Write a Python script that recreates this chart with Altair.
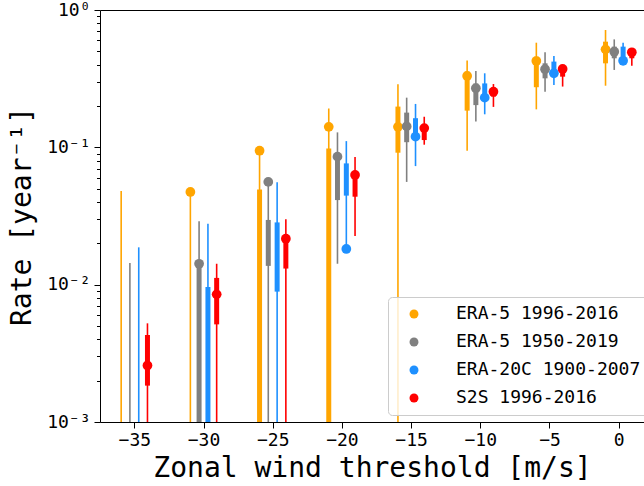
import altair as alt
import pandas as pd

thresholds = [-35, -30, -25, -20, -15, -10, -5, 0]
series_names = ["ERA-5 1996-2016", "ERA-5 1950-2019", "ERA-20C 1900-2007", "S2S 1996-2016"]
offsets = [-0.95, -0.32, 0.32, 0.95]
colors = ["#FFA500", "#808080", "#1E90FF", "#FF0000"]
FLOOR = 1e-5  # value below the plotted range (bar reaches the bottom)

# ERA-5 1996-2016
era5a_point = [None, 0.0473, 0.0945, 0.141, 0.141, 0.331, 0.425, 0.517]
era5a_hi = [0.048, 0.0473, 0.0945, 0.192, 0.288, 0.428, 0.578, 0.715]
era5a_lo = [FLOOR, FLOOR, FLOOR, FLOOR, FLOOR, 0.0946, 0.189, 0.281]
era5a_q3 = [None, None, 0.0494, 0.098, 0.198, 0.356, 0.457, 0.588]
era5a_q1 = [None, None, FLOOR, FLOOR, 0.0914, 0.185, 0.274, 0.409]

# ERA-5 1950-2019
era5b_point = [None, 0.0142, 0.056, 0.0855, 0.142, 0.269, 0.370, 0.497]
era5b_hi = [0.0144, 0.0289, 0.056, 0.1285, 0.230, 0.360, 0.492, 0.611]
era5b_lo = [FLOOR, FLOOR, FLOOR, 0.0142, 0.056, 0.154, 0.254, 0.366]
era5b_q3 = [None, 0.0142, 0.0296, 0.0855, 0.179, 0.292, 0.409, 0.541]
era5b_q1 = [None, FLOOR, 0.0137, 0.0413, 0.109, 0.203, 0.318, 0.445]

# ERA-20C 1900-2007
era20c_point = [None, None, None, 0.0182, 0.1196, 0.230, 0.346, 0.427]
era20c_hi = [0.0187, 0.0278, 0.0556, 0.111, 0.207, 0.346, 0.462, 0.578]
era20c_lo = [FLOOR, FLOOR, FLOOR, 0.0182, 0.073, 0.174, 0.284, 0.398]
era20c_q3 = [None, 0.0096, 0.0284, 0.0764, 0.163, 0.292, 0.421, 0.541]
era20c_q1 = [None, FLOOR, 0.0089, 0.0445, 0.116, 0.230, 0.356, 0.445]

# S2S 1996-2016
s2s_point = [0.00258, 0.0085, 0.0216, 0.0629, 0.138, 0.254, 0.372, 0.492]
s2s_hi = [0.00523, 0.0142, 0.030, 0.085, 0.167, 0.289, 0.398, 0.526]
s2s_lo = [FLOOR, FLOOR, FLOOR, 0.0226, 0.1045, 0.197, 0.277, 0.393]
s2s_q3 = [0.0043, 0.0112, 0.0223, 0.0665, 0.1455, 0.269, 0.386, 0.511]
s2s_q1 = [0.00184, 0.00514, 0.0131, 0.0437, 0.113, 0.234, 0.327, 0.445]

series_data = [
    (era5a_point, era5a_hi, era5a_lo, era5a_q3, era5a_q1),
    (era5b_point, era5b_hi, era5b_lo, era5b_q3, era5b_q1),
    (era20c_point, era20c_hi, era20c_lo, era20c_q3, era20c_q1),
    (s2s_point, s2s_hi, s2s_lo, s2s_q3, s2s_q1),
]

rows = []
for name, off, (pts, hi, lo, q3, q1) in zip(series_names, offsets, series_data):
    for i, t in enumerate(thresholds):
        rows.append(dict(series=name, x=t + off, point=pts[i], hi=hi[i], lo=lo[i], q3=q3[i], q1=q1[i]))
df = pd.DataFrame(rows)

major_y = [0.001, 0.01, 0.1, 1]
minor_y = [m * 10.0 ** e for e in (-3, -2, -1) for m in range(2, 10)]

x_scale = alt.Scale(domain=[-37.48, 1.83], nice=False, zero=False)
y_scale = alt.Scale(type="log", domain=[0.001, 1], clamp=True, nice=False)
color_scale = alt.Scale(domain=series_names, range=colors)

base = alt.Chart(df)

thin = base.mark_rule(strokeWidth=1.6).encode(
    x=alt.X("x:Q", scale=x_scale,
            axis=alt.Axis(values=thresholds, orient="bottom", title="Zonal wind threshold [m/s]",
                          tickSize=6, labelPadding=3, titlePadding=5, grid=False)),
    y=alt.Y("lo:Q", scale=y_scale,
            axis=alt.Axis(values=major_y, orient="left", title="Rate [year⁻¹]",
                          labelExpr="datum.value >= 0.99 ? '10⁰' : datum.value >= 0.099 ? '10⁻¹' : datum.value >= 0.0099 ? '10⁻²' : '10⁻³'",
                          tickSize=6, labelPadding=4, titlePadding=10, grid=False)),
    y2="hi:Q",
    color=alt.Color("series:N", scale=color_scale, legend=None),
)

thick = base.mark_rule(strokeWidth=5).encode(
    x=alt.X("x:Q", scale=x_scale,
            axis=alt.Axis(orient="top", labels=False, ticks=False, domain=True, title="", grid=False)),
    y=alt.Y("q1:Q", scale=y_scale,
            axis=alt.Axis(values=minor_y, orient="left", labels=False, tickSize=3.5,
                          domain=False, title="", grid=False)),
    y2="q3:Q",
    color=alt.Color("series:N", scale=color_scale, legend=None),
)

points = base.mark_point(filled=True, size=95, opacity=1, shape="circle").encode(
    x=alt.X("x:Q", scale=x_scale, axis=None),
    y=alt.Y("point:Q", scale=y_scale, axis=None),
    color=alt.Color("series:N", scale=color_scale,
                    legend=alt.Legend(orient="none", legendX=288, legendY=287, title=None,
                                      padding=8, cornerRadius=4, strokeColor="#cccccc",
                                      fillColor="rgba(255,255,255,0.8)",
                                      labelFont="DejaVu Sans Mono", labelFontSize=18,
                                      labelColor="black", labelLimit=400, rowPadding=10,
                                      symbolType="circle", symbolSize=80, symbolStrokeWidth=0,
                                      symbolOffset=9, labelOffset=33)),
)

chart = alt.layer(thin, thick, points).resolve_axis(
    x="independent", y="independent"
).resolve_legend(color="independent").properties(
    width=544, height=412,
    autosize=alt.AutoSizeParams(type="none"),
    padding={"left": 100, "top": 10, "right": 0, "bottom": 64},
).configure_view(stroke=None).configure_axis(
    labelFont="DejaVu Sans Mono", titleFont="DejaVu Sans Mono",
    labelFontSize=18, titleFontSize=28, titleFontWeight="normal",
    labelColor="black", titleColor="black", domainColor="black", tickColor="black",
    domainWidth=1, tickWidth=1,
)

chart.save("out.html", embed_options={"renderer": "svg", "actions": False})
